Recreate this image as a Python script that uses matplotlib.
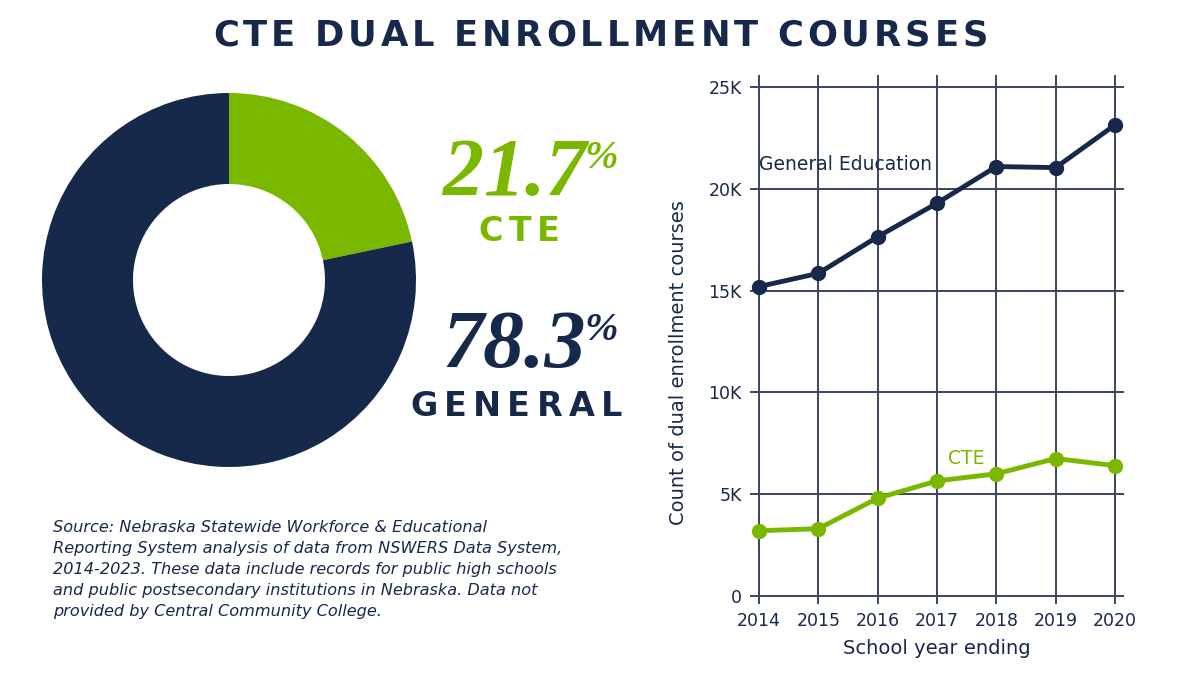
import numpy as np
import matplotlib
matplotlib.use('Agg')
import matplotlib.pyplot as plt
from matplotlib.ticker import FuncFormatter

# ── Data ─────────────────────────────────────────────────────────────────────
years   = [2014, 2015, 2016, 2017, 2018, 2019, 2020]
general = [15200, 15850, 17650, 19300, 21100, 21050, 23150]
cte     = [3200, 3300, 4800, 5650, 6000, 6750, 6400]

share_labels = ['CTE', 'GENERAL']
share_values = [21.7, 78.3]

source_lines = [
    "Source: Nebraska Statewide Workforce & Educational",
    "Reporting System analysis of data from NSWERS Data System,",
    "2014-2023. These data include records for public high schools",
    "and public postsecondary institutions in Nebraska. Data not",
    "provided by Central Community College.",
]

NAVY  = '#17294a'
GREEN = '#7ab800'
GRID  = '#3b4560'
SANS  = 'DejaVu Sans'

W, H = 1200, 675
fig = plt.figure(figsize=(12, 6.75), dpi=100)
fig.patch.set_facecolor('white')
renderer = fig.canvas.get_renderer()


def spaced_text(s, x0, x1, y, **kw):
    """Draw s letter by letter so it spans pixel range x0..x1 (fake tracking)."""
    widths = []
    for ch in s:
        t = fig.text(0, 0, ch if ch != ' ' else 'n', **kw)
        bb = t.get_window_extent(renderer)
        w = bb.width if ch != ' ' else bb.width * 0.45
        widths.append(w)
        t.remove()
    gap = (x1 - x0 - sum(widths)) / (len(s) - 1)
    x = x0
    for ch, w in zip(s, widths):
        if ch != ' ':
            fig.text(x / W, 1 - y / H, ch, ha='left', va='center', **kw)
        x += w + gap


# ── Title ────────────────────────────────────────────────────────────────────
spaced_text("CTE DUAL ENROLLMENT COURSES", 213, 988, 36,
            fontsize=25.5, fontweight='bold', family=SANS, color=NAVY)

# ── Donut ────────────────────────────────────────────────────────────────────
R = 190
axd = fig.add_axes([(229 - R) / W, (675 - 280 - R) / H, 2 * R / W, 2 * R / H])
axd.pie(share_values, colors=[GREEN, NAVY], startangle=90, counterclock=False,
        radius=187 / R, wedgeprops=dict(width=(187 - 96) / R, linewidth=0))
axd.set_xlim(-1, 1)
axd.set_ylim(-1, 1)
axd.set_aspect('equal')
axd.axis('off')

# big percentages
num_kw = dict(family='Liberation Serif', style='italic', fontweight='bold')
for val, lab, color, base, lab_x0, lab_x1, lab_y in [
        (share_values[0], share_labels[0], GREEN, 195, 478, 560, 232),
        (share_values[1], share_labels[1], NAVY, 367, 410, 622, 406)]:
    fig.text(586 / W, 1 - base / H, f"{val:.1f}", ha='right', va='baseline',
             fontsize=59, color=color, **num_kw)
    fig.text(584 / W, 1 - (base - 27) / H, "%", ha='left', va='baseline',
             fontsize=29, color=color, **num_kw)
    spaced_text(lab, lab_x0, lab_x1, lab_y, fontsize=24, fontweight='bold',
                family=SANS, color=color)

# source note
for i, line in enumerate(source_lines):
    fig.text(53 / W, 1 - (532 + i * 21) / H, line, ha='left', va='baseline',
             fontsize=11.6, style='italic', family=SANS, color=NAVY)

# ── Line chart ───────────────────────────────────────────────────────────────
ax = fig.add_axes([750 / W, (675 - 604) / H, (1124 - 750) / W, (604 - 75) / H])
ax.plot(years, general, color=NAVY, lw=3.5, marker='o', ms=10, zorder=3,
        clip_on=False)
ax.plot(years, cte, color=GREEN, lw=3.5, marker='o', ms=10, zorder=3,
        clip_on=False)
ax.set_xlim(2013.85, 2020.15)
ax.set_ylim(-400, 25600)
ax.set_xticks(years)
ax.set_yticks([0, 5000, 10000, 15000, 20000, 25000])
ax.yaxis.set_major_formatter(FuncFormatter(lambda v, p: '0' if v == 0 else f"{int(v / 1000)}K"))
ax.grid(True, color=GRID, lw=1.4)
ax.set_axisbelow(True)
for sp in ax.spines.values():
    sp.set_visible(False)
ax.tick_params(length=0, pad=6, labelsize=12.5, labelcolor=NAVY)
for lbl in ax.get_xticklabels() + ax.get_yticklabels():
    lbl.set_family(SANS)
ax.set_xlabel("School year ending", fontsize=14, color=NAVY, family=SANS)
ax.xaxis.set_label_coords(0.5, -0.066)
ax.set_ylabel("Count of dual enrollment courses", fontsize=14, color=NAVY,
              family=SANS)
ax.yaxis.set_label_coords(-0.165, 0.456)

ax.text(years[0], 21200, "General Education", ha='left', va='center',
        fontsize=13.5, color=NAVY, family=SANS, zorder=4)
ax.text(2017.49, 6750, "CTE", ha='center', va='center',
        fontsize=13.5, color=GREEN, family=SANS, zorder=4)

fig.savefig('out.png', dpi=100, facecolor='white')
